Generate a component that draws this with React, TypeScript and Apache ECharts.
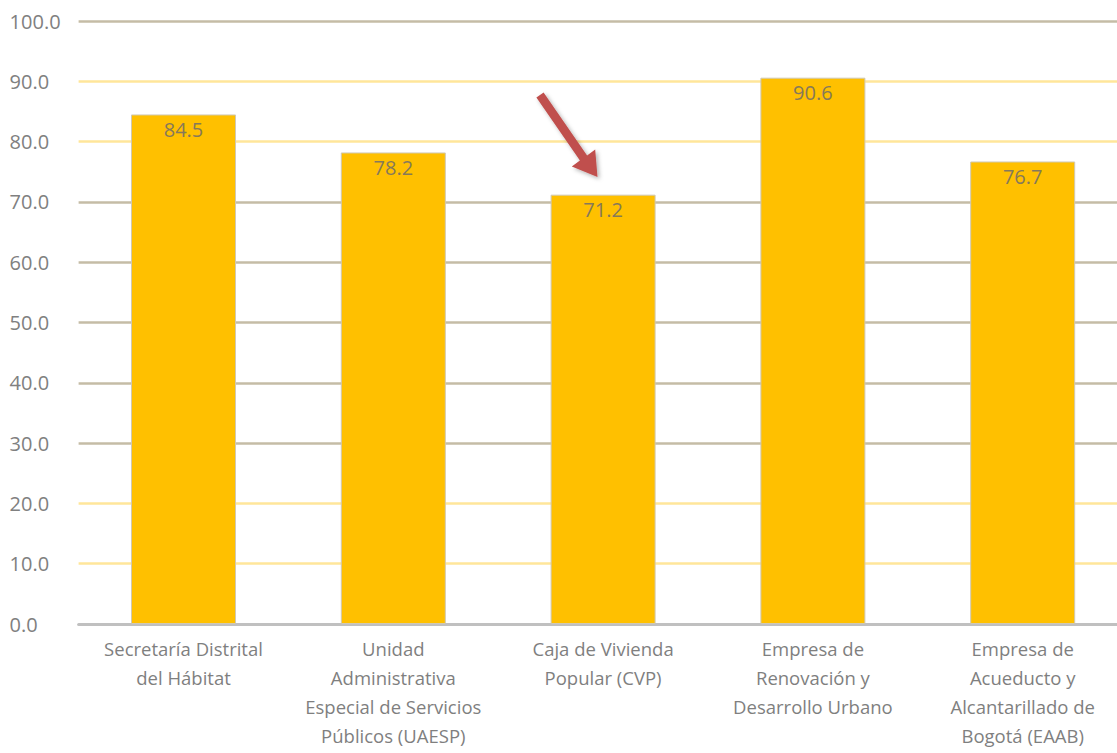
import React, { useEffect, useRef } from "react";
import * as echarts from "echarts";

const categories = [
  "Secretaría Distrital\ndel Hábitat",
  "Unidad\nAdministrativa\nEspecial de Servicios\nPúblicos (UAESP)",
  "Caja de Vivienda\nPopular (CVP)",
  "Empresa de\nRenovación y\nDesarrollo Urbano",
  "Empresa de\nAcueducto y\nAlcantarillado de\nBogotá (EAAB)",
];
const values = [84.5, 78.2, 71.2, 90.6, 76.7];
const yMin = 0;
const yMax = 100;
const yStep = 10;

const TAN = "#c5bca6";
const YEL = "#ffe69a";
const GRAY = "#c0c0c0";
const gridColors = [GRAY, YEL, YEL, TAN, TAN, TAN, TAN, TAN, YEL, YEL, TAN];

export default function App() {
  const ref = useRef<HTMLDivElement>(null);
  useEffect(() => {
    if (!ref.current) return;
    const chart = echarts.init(ref.current, null, { renderer: "svg" });
    const font = "'Open Sans', 'Noto Sans', sans-serif";
    chart.setOption({
      animation: false,
      backgroundColor: "#ffffff",
      grid: { left: 78.6, top: 21, width: 1049, height: 603, containLabel: false },
      xAxis: {
        type: "category",
        data: categories,
        axisLine: { show: true, lineStyle: { color: GRAY, width: 3 } },
        axisTick: { show: false },
        axisLabel: {
          color: "#7f7f7f",
          fontSize: 18.5,
          fontFamily: font,
          lineHeight: 29,
          margin: 10,
          interval: 0,
          align: "center",
          verticalAlign: "top",
        },
      },
      yAxis: {
        type: "value",
        min: yMin,
        max: yMax,
        interval: yStep,
        axisLine: { show: false },
        axisTick: { show: false },
        axisLabel: {
          color: "#808080",
          fontSize: 20,
          fontFamily: font,
          align: "left",
          margin: 69,
          formatter: (v: number) => v.toFixed(1),
        },
        splitLine: {
          show: true,
          showMinLine: true,
          lineStyle: { color: gridColors, width: 2.6 },
        },
      },
      series: [
        {
          type: "bar",
          data: values,
          barWidth: 105,
          itemStyle: { color: "#ffc000", borderColor: "#cfc8b4", borderWidth: 1 },
          label: {
            show: true,
            position: "insideTop",
            distance: 5,
            color: "#86795a",
            fontSize: 20,
            fontFamily: font,
            formatter: (p: any) => Number(p.value).toFixed(1),
          },
        },
      ],
      graphic: [
        {
          type: "polygon",
          z: 100,
          shape: {
            points: [
              [543.6, 92.4],
              [587.1, 155.4],
              [595.2, 149.6],
              [597.5, 177],
              [571.8, 166.4],
              [579.9, 160.6],
              [536.4, 97.6],
            ],
          },
          style: {
            fill: "#c0504d",
            shadowBlur: 4,
            shadowOffsetX: 2,
            shadowOffsetY: 2,
            shadowColor: "rgba(0,0,0,0.3)",
          },
        },
      ],
    });
    return () => chart.dispose();
  }, []);
  return (
    <div
      ref={ref}
      style={{ position: "fixed", left: 0, top: 0, width: 1140, height: 770, background: "#fff" }}
    />
  );
}
